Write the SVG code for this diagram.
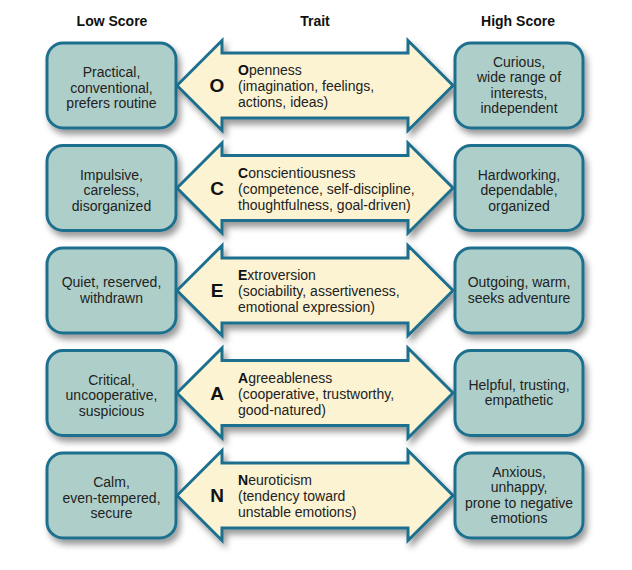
<svg xmlns="http://www.w3.org/2000/svg" width="632" height="570" viewBox="0 0 632 570">
<defs>
<filter id="sh" x="-20%" y="-20%" width="150%" height="160%">
<feDropShadow dx="3" dy="5" stdDeviation="3" flood-color="#000" flood-opacity="0.4"/>
</filter>
<style>
.box{fill:#aecfc9;stroke:#1f6f8e;stroke-width:3;filter:url(#sh)}
.arr{fill:#fcf3d2;stroke:#1f6f8e;stroke-width:3;stroke-linejoin:miter;filter:url(#sh)}
.t{font-family:"Liberation Sans",Arial,sans-serif;font-size:14px;fill:#222}
.c{text-anchor:middle}
.h{font-family:"Liberation Sans",Arial,sans-serif;font-size:14px;font-weight:bold;fill:#111;text-anchor:middle}
.L{font-family:"Liberation Sans",Arial,sans-serif;font-size:19px;font-weight:bold;fill:#111;text-anchor:middle}
.b{font-weight:bold;fill:#111}
</style>
</defs>
<rect width="632" height="570" fill="#fff"/>
<g id="headers">
<text class="h" x="112" y="26">Low Score</text>
<text class="h" x="315" y="26">Trait</text>
<text class="h" x="518" y="26">High Score</text>
</g>

<!-- Row 1: top 43, cy 85.5 -->
<g id="low-o">
<rect class="box" x="47" y="43" width="129" height="85" rx="16"/>
<text class="t c" x="111.5" y="77">Practical,</text>
<text class="t c" x="111.5" y="92.5">conventional,</text>
<text class="t c" x="111.5" y="108">prefers routine</text>
</g>
<g id="trait-o">
<path class="arr" d="M177,85.5 L222,40.5 L222,53 L408,53 L408,40.5 L453,85.5 L408,130.5 L408,118 L222,118 L222,130.5 Z"/>
<text class="L" x="217" y="92">O</text>
<text class="t" x="238" y="75"><tspan class="b">O</tspan>penness</text>
<text class="t" x="238" y="91">(imagination, feelings,</text>
<text class="t" x="238" y="107">actions, ideas)</text>
</g>
<g id="high-o">
<rect class="box" x="455" y="43" width="128" height="85" rx="16"/>
<text class="t c" x="519" y="66.5">Curious,</text>
<text class="t c" x="519" y="82">wide range of</text>
<text class="t c" x="519" y="97.5">interests,</text>
<text class="t c" x="519" y="113">independent</text>
</g>

<!-- Row 2: top 145.5, cy 188 -->
<g id="low-c">
<rect class="box" x="47" y="145.5" width="129" height="85" rx="16"/>
<text class="t c" x="111.5" y="179.5">Impulsive,</text>
<text class="t c" x="111.5" y="195">careless,</text>
<text class="t c" x="111.5" y="210.5">disorganized</text>
</g>
<g id="trait-c">
<path class="arr" d="M177,188 L222,143 L222,155.5 L408,155.5 L408,143 L453,188 L408,233 L408,220.5 L222,220.5 L222,233 Z"/>
<text class="L" x="217" y="194.5">C</text>
<text class="t" x="238" y="177.5"><tspan class="b">C</tspan>onscientiousness</text>
<text class="t" x="238" y="193.5">(competence, self-discipline,</text>
<text class="t" x="238" y="209.5">thoughtfulness, goal-driven)</text>
</g>
<g id="high-c">
<rect class="box" x="455" y="145.5" width="128" height="85" rx="16"/>
<text class="t c" x="519" y="179.5">Hardworking,</text>
<text class="t c" x="519" y="195">dependable,</text>
<text class="t c" x="519" y="210.5">organized</text>
</g>

<!-- Row 3: top 248, cy 290.5 -->
<g id="low-e">
<rect class="box" x="47" y="248" width="129" height="85" rx="16"/>
<text class="t c" x="111.5" y="287">Quiet, reserved,</text>
<text class="t c" x="111.5" y="302.5">withdrawn</text>
</g>
<g id="trait-e">
<path class="arr" d="M177,290.5 L222,245.5 L222,258 L408,258 L408,245.5 L453,290.5 L408,335.5 L408,323 L222,323 L222,335.5 Z"/>
<text class="L" x="217" y="297">E</text>
<text class="t" x="238" y="280"><tspan class="b">E</tspan>xtroversion</text>
<text class="t" x="238" y="296">(sociability, assertiveness,</text>
<text class="t" x="238" y="312">emotional expression)</text>
</g>
<g id="high-e">
<rect class="box" x="455" y="248" width="128" height="85" rx="16"/>
<text class="t c" x="519" y="287">Outgoing, warm,</text>
<text class="t c" x="519" y="302.5">seeks adventure</text>
</g>

<!-- Row 4: top 350.5, cy 393 -->
<g id="low-a">
<rect class="box" x="47" y="350.5" width="129" height="85" rx="16"/>
<text class="t c" x="111.5" y="384.5">Critical,</text>
<text class="t c" x="111.5" y="400">uncooperative,</text>
<text class="t c" x="111.5" y="415.5">suspicious</text>
</g>
<g id="trait-a">
<path class="arr" d="M177,393 L222,348 L222,360.5 L408,360.5 L408,348 L453,393 L408,438 L408,425.5 L222,425.5 L222,438 Z"/>
<text class="L" x="217" y="399.5">A</text>
<text class="t" x="238" y="382.5"><tspan class="b">A</tspan>greeableness</text>
<text class="t" x="238" y="398.5">(cooperative, trustworthy,</text>
<text class="t" x="238" y="414.5">good-natured)</text>
</g>
<g id="high-a">
<rect class="box" x="455" y="350.5" width="128" height="85" rx="16"/>
<text class="t c" x="519" y="389.5">Helpful, trusting,</text>
<text class="t c" x="519" y="405">empathetic</text>
</g>

<!-- Row 5: top 453, cy 495.5 -->
<g id="low-n">
<rect class="box" x="47" y="453" width="129" height="85" rx="16"/>
<text class="t c" x="111.5" y="487">Calm,</text>
<text class="t c" x="111.5" y="502.5">even-tempered,</text>
<text class="t c" x="111.5" y="518">secure</text>
</g>
<g id="trait-n">
<path class="arr" d="M177,495.5 L222,450.5 L222,463 L408,463 L408,450.5 L453,495.5 L408,540.5 L408,528 L222,528 L222,540.5 Z"/>
<text class="L" x="217" y="502">N</text>
<text class="t" x="238" y="485"><tspan class="b">N</tspan>euroticism</text>
<text class="t" x="238" y="501">(tendency toward</text>
<text class="t" x="238" y="517">unstable emotions)</text>
</g>
<g id="high-n">
<rect class="box" x="455" y="453" width="128" height="85" rx="16"/>
<text class="t c" x="519" y="476.5">Anxious,</text>
<text class="t c" x="519" y="492">unhappy,</text>
<text class="t c" x="519" y="507.5">prone to negative</text>
<text class="t c" x="519" y="523">emotions</text>
</g>
</svg>
